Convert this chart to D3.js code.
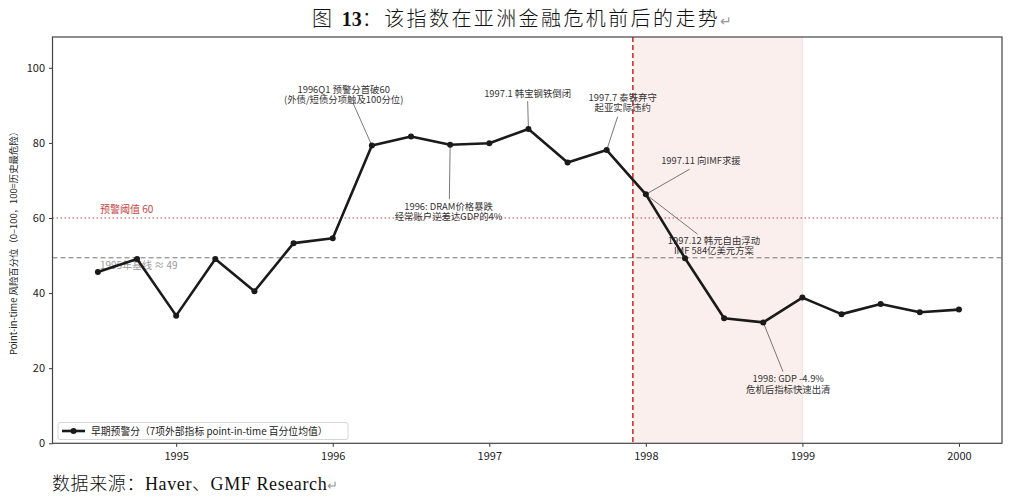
<!DOCTYPE html>
<html><head><meta charset="utf-8">
<script src="https://cdn.jsdelivr.net/npm/d3@7"></script>
<style>
html,body{margin:0;padding:0;background:#fff;}
svg{display:block;}
</style></head>
<body>
<svg id="chart" width="1024" height="499"></svg>
<script>
// ---- data ----
const dates = [1994.5, 1994.75, 1995.0, 1995.25, 1995.5, 1995.75, 1996.0, 1996.25, 1996.5, 1996.75,
               1997.0, 1997.25, 1997.5, 1997.75, 1998.0, 1998.25, 1998.5, 1998.75, 1999.0, 1999.25,
               1999.5, 1999.75, 2000.0];
const scores = [45.6, 49.1, 34.0, 49.1, 40.5, 53.3, 54.6, 79.3, 81.7, 79.5,
                79.9, 83.7, 74.8, 78.1, 66.3, 49.3, 33.3, 32.2, 38.8, 34.4,
                37.1, 34.9, 35.6];
const xTicks = [1995, 1996, 1997, 1998, 1999, 2000];
const yTicks = [0, 20, 40, 60, 80, 100];
const threshold = 60;
const baseline = 49.4;
const crisisStart = 1997.917;
const crisisEnd = 1999.0;
const seriesName = "早期预警分（7项外部指标 point-in-time 百分位均值）";
const titleText = ["图 ", "13", "：该指数在亚洲金融危机前后的走势"];
const sourceText = "数据来源：Haver、GMF Research";
const yLabel = "Point-in-time 风险百分位（0–100，100=历史最危险）";
const thresholdLabel = "预警阈值 60";
const baselineLabel = "1995年基线 ≈ 49";
// annotations: point index, text lines
const annoPoint = [7, 9, 11, 13, 14, 14, 17];
const annoText = [
  ["1996Q1 预警分首破60", "(外债/短债分项触及100分位)"],
  ["1996: DRAM价格暴跌", "经常账户逆差达GDP的4%"],
  ["1997.1 韩宝钢铁倒闭"],
  ["1997.7 泰铢弃守", "起亚实际违约"],
  ["1997.11 向IMF求援"],
  ["1997.12 韩元自由浮动", "IMF 584亿美元方案"],
  ["1998: GDP -4.9%", "危机后指标快速出清"]
];
// text placement (data coords of first line centre) and connector end (data coords)
const annoLayout = [
  {tx:1996.07, ty:94.3, ax:1996.13, ay:90.6},
  {tx:1996.74, ty:63.1, ax:1996.745, ay:65.0},
  {tx:1997.245, ty:93.2, ax:1997.245, ay:91.1},
  {tx:1997.852, ty:92.1, ax:1997.82, ay:87.0},
  {tx:1998.352, ty:75.2, ax:1998.28, ay:73.0},
  {tx:1998.435, ty:54.1, ax:1998.33, ay:55.7},
  {tx:1998.91, ty:17.1, ax:1998.876, ay:19.1}
];

// ---- layout ----
const L = 52.5, R = 1002, T = 37, B = 443.3;
const svg = d3.select("#chart");
const x = d3.scaleLinear().domain([1994.21, 2000.275]).range([L, R]);
const y = d3.scaleLinear().domain([0, 108.2]).range([B, T]);
const cjk = "'Noto Sans CJK SC', 'Noto Sans', sans-serif";

// shaded crisis region
svg.append("rect")
  .attr("x", x(crisisStart)).attr("y", T)
  .attr("width", x(crisisEnd) - x(crisisStart)).attr("height", B - T)
  .attr("fill", "#faefed");
svg.append("line")
  .attr("x1", x(crisisEnd)).attr("x2", x(crisisEnd)).attr("y1", T).attr("y2", B)
  .attr("stroke", "#f1e4e3").attr("stroke-width", 1);

// threshold line
svg.append("line")
  .attr("x1", L).attr("x2", R).attr("y1", y(threshold)).attr("y2", y(threshold))
  .attr("stroke", "#c94444").attr("stroke-width", 1.1).attr("stroke-dasharray", "1.5,2.5");
// baseline
svg.append("line")
  .attr("x1", L).attr("x2", R).attr("y1", y(baseline)).attr("y2", y(baseline))
  .attr("stroke", "#777").attr("stroke-width", 1).attr("stroke-dasharray", "5,3");
// crisis vertical line
svg.append("line")
  .attr("x1", x(crisisStart)).attr("x2", x(crisisStart)).attr("y1", T).attr("y2", B)
  .attr("stroke", "#c62828").attr("stroke-width", 1.5).attr("stroke-dasharray", "5,3");

svg.append("text").attr("x", x(1994.5) + 2).attr("y", y(threshold) - 5)
  .attr("font-family", cjk).attr("font-size", 10).attr("fill", "#c94444").text(thresholdLabel);
svg.append("text").attr("x", x(1994.5) + 2).attr("y", y(baseline) + 11)
  .attr("font-family", cjk).attr("font-size", 10).attr("fill", "#999").text(baselineLabel);

// axes
const xAxis = d3.axisBottom(x).tickValues(xTicks).tickFormat(d3.format("d")).tickSize(3.5).tickPadding(5);
const yAxis = d3.axisLeft(y).tickValues(yTicks).tickSize(3.5).tickPadding(4);
const gx = svg.append("g").attr("transform", `translate(0,${B})`).call(xAxis);
const gy = svg.append("g").attr("transform", `translate(${L},0)`).call(yAxis);
[gx, gy].forEach(g => {
  g.select(".domain").remove();
  g.selectAll(".tick line").attr("stroke", "#333");
  g.selectAll(".tick text").attr("font-family", cjk).attr("font-size", 11).attr("fill", "#222");
});
// frame
svg.append("rect").attr("x", L).attr("y", T).attr("width", R - L).attr("height", B - T)
  .attr("fill", "none").attr("stroke", "#444").attr("stroke-width", 1.2);

// y label
svg.append("text")
  .attr("transform", `translate(17,241) rotate(-90)`)
  .attr("text-anchor", "middle").attr("font-family", cjk).attr("font-size", 9.4).attr("fill", "#222")
  .text(yLabel);

// annotations
annoText.forEach((lines, i) => {
  const p = annoPoint[i], a = annoLayout[i];
  svg.append("line")
    .attr("x1", x(dates[p])).attr("y1", y(scores[p]))
    .attr("x2", x(a.ax)).attr("y2", y(a.ay))
    .attr("stroke", "#555").attr("stroke-width", 0.8);
  lines.forEach((s, k) => {
    svg.append("text").attr("text-anchor", "middle")
      .attr("font-family", cjk).attr("font-size", 9.4).attr("fill", "#333")
      .attr("x", x(a.tx)).attr("y", y(a.ty) + 3.4 + k * 10.6).text(s);
  });
});

// series
const pts = dates.map((d, i) => [d, scores[i]]);
svg.append("path").datum(pts)
  .attr("fill", "none").attr("stroke", "#1a1a1a").attr("stroke-width", 2.6)
  .attr("stroke-linejoin", "round")
  .attr("d", d3.line().x(d => x(d[0])).y(d => y(d[1])));
svg.selectAll("circle.pt").data(pts).enter().append("circle")
  .attr("class", "pt").attr("cx", d => x(d[0])).attr("cy", d => y(d[1])).attr("r", 3)
  .attr("fill", "#1a1a1a");

// legend
const lg = svg.append("g");
lg.append("rect").attr("x", 58).attr("y", 422.5).attr("width", 290).attr("height", 17).attr("rx", 2)
  .attr("fill", "#fff").attr("fill-opacity", 0.85).attr("stroke", "#ccc").attr("stroke-width", 0.8);
lg.append("line").attr("x1", 62).attr("x2", 85).attr("y1", 431).attr("y2", 431)
  .attr("stroke", "#1a1a1a").attr("stroke-width", 2.6);
lg.append("circle").attr("cx", 73.5).attr("cy", 431).attr("r", 3).attr("fill", "#1a1a1a");
lg.append("text").attr("x", 91).attr("y", 434.5).attr("font-family", cjk).attr("font-size", 9.8)
  .attr("fill", "#222").text(seriesName);

// title
const serif = "'Liberation Serif', 'Noto Sans CJK SC', serif";
const tt = svg.append("text").attr("x", 312).attr("y", 26).attr("font-family", serif)
  .attr("font-size", 20).attr("font-weight", 300).attr("fill", "#111").attr("letter-spacing", 2.4);
tt.append("tspan").text(titleText[0]);
tt.append("tspan").attr("font-weight", "bold").attr("letter-spacing", 0).text(titleText[1]);
tt.append("tspan").text(titleText[2]);
tt.append("tspan").attr("fill", "#999").attr("font-size", 14).attr("font-family", "'DejaVu Sans'").attr("letter-spacing", 0).text("↵");

// source
const st = svg.append("text").attr("x", 52).attr("y", 490).attr("font-family", serif)
  .attr("font-size", 18).attr("font-weight", 300).attr("fill", "#111").attr("letter-spacing", 0.6);
st.append("tspan").text(sourceText);
st.append("tspan").attr("fill", "#999").attr("font-size", 13).attr("font-family", "'DejaVu Sans'").attr("letter-spacing", 0).text("↵");
</script>
</body></html>
